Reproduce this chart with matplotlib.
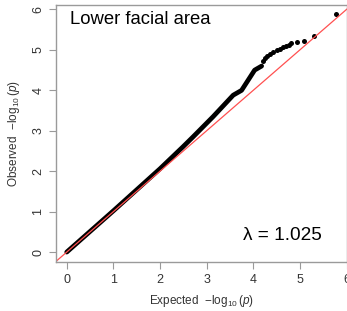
import numpy as np
import matplotlib
matplotlib.use('Agg')
import matplotlib.pyplot as plt

plt.rcParams['font.family'] = ['Liberation Sans', 'DejaVu Sans']
plt.rcParams['mathtext.fontset'] = 'custom'
plt.rcParams['mathtext.rm'] = 'Liberation Sans'
plt.rcParams['mathtext.it'] = 'Liberation Sans:italic'

# dichte Band der Punkte (expected, observed)
band_exp = [0.0, 0.5, 1.0, 1.5, 2.0, 2.49, 2.71, 3.14, 3.57, 3.75, 3.89, 4.03, 4.18]
band_obs = [0.0, 0.51, 1.02, 1.54, 2.06, 2.60, 2.85, 3.35, 3.88, 4.00, 4.25, 4.50, 4.60]

# einzelne Punkte im oberen Bereich
tail_exp = [4.21, 4.25, 4.30, 4.36, 4.43, 4.50, 4.57, 4.64, 4.70, 4.76, 4.82, 4.93, 5.08, 5.30, 5.78]
tail_obs = [4.72, 4.79, 4.86, 4.91, 4.96, 5.00, 5.03, 5.07, 5.10, 5.13, 5.16, 5.20, 5.22, 5.34, 5.88]

ticks = [0, 1, 2, 3, 4, 5, 6]
grey = '#9a9a9a'

fig = plt.figure(figsize=(3.47, 3.11), dpi=100)
ax = fig.add_axes([56 / 347, 49 / 311, 290.5 / 347, 257 / 311])

ax.plot(band_exp, band_obs, color='black', lw=3.4, solid_capstyle='round', solid_joinstyle='round')
ax.plot(tail_exp, tail_obs, 'o', color='black', ms=3.6, mew=0)
ax.plot([-1, 7], [-1, 7], color='#ff5050', lw=0.9)

ax.set_xlim(-0.23, 6.0)
ax.set_ylim(-0.245, 6.11)
ax.set_xticks(ticks)
ax.set_yticks(ticks)
ax.tick_params(colors=grey, labelcolor='#333333', labelsize=9, length=5, width=0.8)
for lbl in ax.get_yticklabels():
	lbl.set_rotation(90)
	lbl.set_va('center')
for s in ax.spines.values():
	s.set_color(grey)
	s.set_linewidth(1.0)

ax.set_xlabel(r'Expected  $-\log_{10}(\mathit{p})$', fontsize=8.5, color='#333333', labelpad=5)
ax.set_ylabel(r'Observed  $-\log_{10}(\mathit{p})$', fontsize=8.5, color='#333333', labelpad=7)

# PODPISY
ax.text(0.047, 0.925, 'Lower facial area', transform=ax.transAxes, fontsize=13.3, color='black', va='baseline')
ax.text(0.645, 0.085, 'λ = 1.025', transform=ax.transAxes, fontsize=13.7, color='black', va='baseline')

fig.savefig('out.png', dpi=100)
